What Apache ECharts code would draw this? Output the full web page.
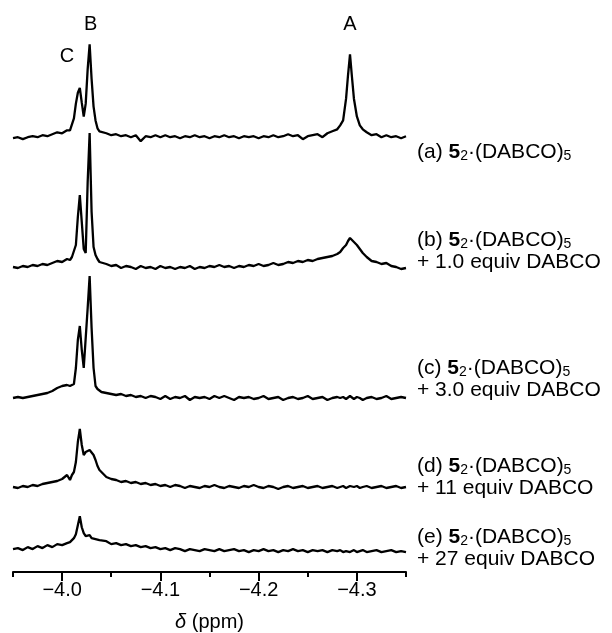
<!DOCTYPE html>
<html><head><meta charset="utf-8">
<script src="https://cdn.jsdelivr.net/npm/echarts@6/dist/echarts.min.js"></script>
<style>html,body{margin:0;padding:0;background:#fff}#c{width:612px;height:633px}</style>
</head><body><div id="c"></div>
<script>
// chemical shift sampling positions (ppm)
const shifts = [
-3.950,-3.955,-3.960,-3.965,-3.970,-3.975,-3.980,-3.985,-3.990,-3.995,-4.000,-4.005,
-4.008,-4.010,-4.012,-4.014,-4.016,-4.018,-4.020,-4.022,-4.024,-4.026,-4.028,-4.030,-4.032,-4.034,-4.036,-4.038,-4.040,
-4.045,-4.050,-4.055,-4.060,-4.065,-4.070,-4.075,-4.080,-4.085,-4.090,-4.095,-4.100,-4.105,-4.110,-4.115,-4.120,
-4.125,-4.130,-4.135,-4.140,-4.145,-4.150,-4.155,-4.160,-4.165,-4.170,-4.175,-4.180,-4.185,-4.190,-4.195,-4.200,
-4.205,-4.210,-4.215,-4.220,-4.225,-4.230,-4.235,-4.240,-4.245,-4.250,-4.255,-4.260,-4.265,-4.270,-4.275,-4.280,
-4.283,-4.286,-4.289,-4.291,-4.293,-4.295,-4.297,-4.300,-4.303,-4.306,
-4.310,-4.315,-4.320,-4.325,-4.330,-4.335,-4.340,-4.345,-4.350];

// intensities (arbitrary units) for the five spectra
const specA = [
0,1,-1,1,2,1,3,2,4,6,5,8,
8,9,20,35,46,51,36,22,35,70,95,60,32,18,10,7,8,
5,3,4,2,3,1,3,-3,2,1,3,1,3,1,2,0,2,1,3,1,2,0,2,1,3,1,2,0,2,1,2,0,2,1,3,1,2,4,2,3,-1,2,3,4,1,5,7,9,
13,18,40,64,85,62,40,22,13,9,
6,3,4,1,3,1,2,0,2];
const specB = [
0,-1,1,0,2,1,3,2,4,6,5,8,
7,10,12,22,50,72,45,18,14,85,134,55,20,12,8,5,4,
3,1,2,-1,1,0,-2,1,-1,0,-2,1,-1,0,-2,0,-1,1,-2,0,-1,1,0,2,0,1,-1,1,0,2,1,3,1,2,4,2,3,5,4,6,5,7,6,8,9,10,11,13,
15,19,22,26,29,27,25,22,18,14,
10,6,5,3,4,1,0,-2,-1];
const specC = [
0,1,0,1,2,3,4,5,7,10,12,13,
12,13,14,30,58,72,48,30,32,90,122,70,30,12,9,7,6,
5,4,3,4,2,3,1,2,0,2,1,-1,2,-1,1,0,2,-2,1,0,1,-1,2,0,2,0,-2,1,0,1,-1,0,2,-1,0,1,-2,0,1,-1,0,2,-1,0,1,-2,0,1,
0,1,-1,0,2,0,-1,1,0,-2,
0,1,-1,0,2,-1,0,1,0];
const specD = [
0,-1,1,0,2,1,3,4,5,6,8,12,
7,12,15,25,45,58,42,32,35,37,37,35,32,27,21,17,15,
10,8,7,5,6,4,5,3,4,2,3,1,2,0,2,1,-1,1,0,-1,1,0,2,0,-1,1,0,-1,1,0,2,0,-1,1,0,-2,0,1,-1,0,1,-1,0,1,-1,0,1,-1,
0,1,-1,0,1,-1,0,1,-1,0,
1,-1,0,1,-1,0,1,-1,0];
const specE = [
0,1,-1,2,0,3,1,4,2,5,4,6,
7,9,11,15,24,33,22,16,13,12,14,11,13,10,12,9,8,
8,5,6,4,5,3,4,2,3,1,2,0,1,-1,1,0,-2,0,-1,-2,0,-1,-2,0,-2,-1,0,-2,-1,-3,-1,-2,0,-2,-1,-3,-1,-2,0,-2,-1,-3,-1,-2,-1,-3,-1,-2,
-1,-3,-2,-1,-3,-2,-1,-3,-2,-1,
-3,-2,-1,-3,-2,-1,-3,-2,-3];

const traceLabels = [
  '(a) {b|5}{s|2}·(DABCO){s|5}',
  '(b) {b|5}{s|2}·(DABCO){s|5}\n+ 1.0 equiv DABCO',
  '(c) {b|5}{s|2}·(DABCO){s|5}\n+ 3.0 equiv DABCO',
  '(d) {b|5}{s|2}·(DABCO){s|5}\n+ 11 equiv DABCO',
  '(e) {b|5}{s|2}·(DABCO){s|5}\n+ 27 equiv DABCO'];
const majorTicks = [-4.0, -4.1, -4.2, -4.3];
const minorTicks = [-3.95, -4.0, -4.05, -4.1, -4.15, -4.2, -4.25, -4.3, -4.35];
const peakNames = ['A', 'B', 'C'];
const peakShifts = [-4.293, -4.029, -4.005];
const peakLabelHeights = [115, 115, 83];

const specs = [specA, specB, specC, specD, specE];
const FONT = 'Liberation Sans, Arial, Helvetica, sans-serif';
const baseY = [138, 267, 398, 487, 550];
const labelY = [152, 251, 379, 477, 548];
const YMIN = -15, YMAX = 140;

const grids = [], xAxes = [], yAxes = [], series = [];
specs.forEach((sp, i) => {
  grids.push({left: 13, right: 206, top: baseY[i] - YMAX, height: YMAX - YMIN});
  yAxes.push({type: 'value', gridIndex: i, min: YMIN, max: YMAX, show: false});
  xAxes.push({type: 'value', gridIndex: i, min: -4.35, max: -3.95, inverse: true, position: 'bottom',
    show: i === 4, offset: 8,
    axisLine: {show: true, onZero: false, lineStyle: {color: '#000', width: 2}},
    axisTick: {show: true, customValues: minorTicks, length: 5, inside: false, lineStyle: {color: '#000', width: 2}},
    axisLabel: {show: false}, splitLine: {show: false},
    name: i === 4 ? '{i|δ} (ppm)' : '', nameLocation: 'middle', nameGap: 40,
    nameTextStyle: {color: '#000', fontSize: 20, fontFamily: FONT,
      rich: {i: {fontStyle: 'italic', fontSize: 20, fontFamily: FONT, color: '#000'}}}
  });
  series.push({type: 'line', xAxisIndex: i, yAxisIndex: i, symbol: 'none', animation: false,
    lineStyle: {color: '#000', width: 2.3}, data: shifts.map((s, j) => [s, sp[j]])});
});
// major ticks & labels
xAxes.push({type: 'value', gridIndex: 4, min: -4.35, max: -3.95, inverse: true, position: 'bottom', offset: 8,
  axisLine: {show: false, onZero: false},
  axisTick: {show: true, customValues: majorTicks, length: 9, lineStyle: {color: '#000', width: 2}},
  axisLabel: {show: true, customValues: majorTicks, margin: 8, color: '#000', fontSize: 20, fontFamily: FONT,
    formatter: v => '\u2212' + Math.abs(v).toFixed(1)},
  splitLine: {show: false}});

series.push({type: 'scatter', xAxisIndex: 0, yAxisIndex: 0, symbolSize: 1, animation: false, silent: true,
  itemStyle: {color: 'rgba(0,0,0,0)'},
  label: {show: true, position: 'inside', color: '#000', opacity: 1, fontSize: 20, fontFamily: FONT,
    textBorderWidth: 0, formatter: p => p.data[2]},
  data: peakNames.map((n, k) => [peakShifts[k], peakLabelHeights[k], n])});

const graphic = traceLabels.map((t, i) => ({
  type: 'text', x: 417, y: labelY[i],
  style: {text: t, fill: '#000', fontSize: 21, fontFamily: FONT, lineHeight: 21, verticalAlign: 'middle', align: 'left',
    rich: {b: {fontWeight: 'bold', fontSize: 21, fontFamily: FONT, lineHeight: 21},
           s: {fontSize: 14, fontFamily: FONT, verticalAlign: 'bottom', lineHeight: 22}}}
}));

const chart = echarts.init(document.getElementById('c'), null, {renderer: 'canvas'});
chart.setOption({backgroundColor: '#fff', animation: false, grid: grids, xAxis: xAxes, yAxis: yAxes, series, graphic});
</script></body></html>
